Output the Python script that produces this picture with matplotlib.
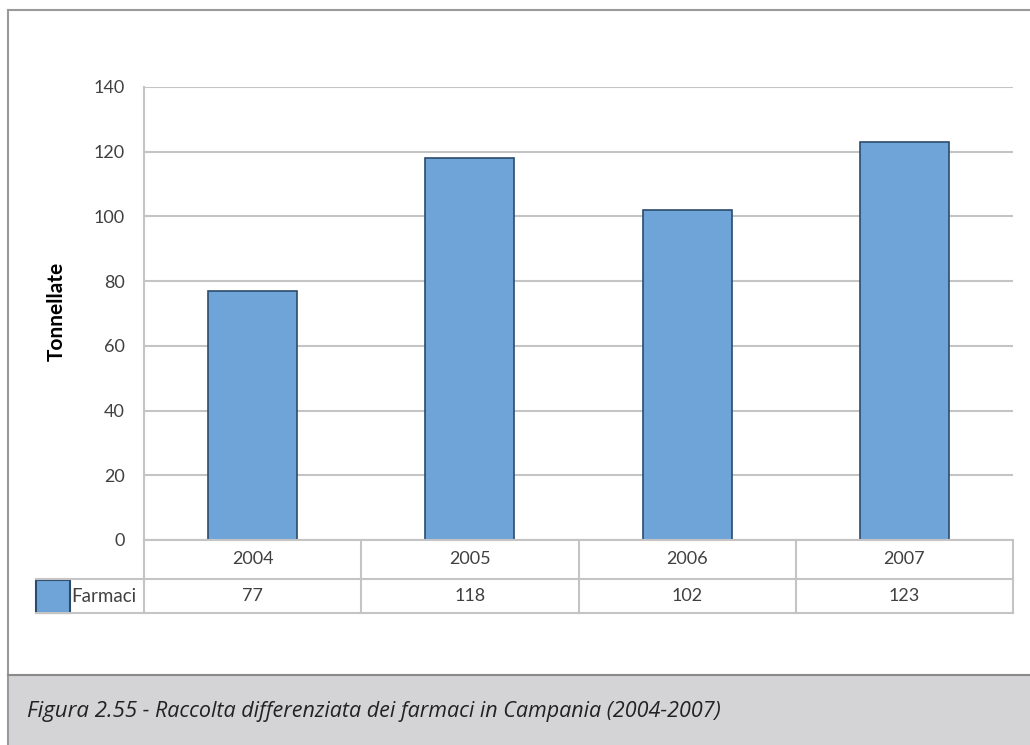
import matplotlib.pyplot as plt
from matplotlib.patches import Rectangle
from matplotlib.lines import Line2D

years = ["2004", "2005", "2006", "2007"]
farmaci = [77, 118, 102, 123]
series_name = "Farmaci"
y_ticks = [0, 20, 40, 60, 80, 100, 120, 140]
y_label = "Tonnellate"
caption_head = "Figura 2.55"
caption_tail = " - Raccolta differenziata dei farmaci in Campania (2004-2007)"

W, H = 1030, 745
FONT = "Lato"
bar_color = "#6fa4d8"
bar_edge = "#2c4a6b"
grid_color = "#c4c4c4"
text_color = "#404040"

fig = plt.figure(figsize=(W / 100, H / 100), dpi=100)
fig.patch.set_facecolor("white")


def fx(px):
    return px / W


def fy(py):
    return 1 - py / H


# outer frame and caption band
fig.add_artist(Line2D([fx(8), fx(8)], [fy(10), fy(745)], color="#9a9a9a", lw=1.5))
fig.add_artist(Line2D([fx(8), fx(1030)], [fy(10), fy(10)], color="#9a9a9a", lw=1.5))
fig.add_artist(Rectangle((fx(8), 0), 1 - fx(8), fy(675), facecolor="#d4d4d6",
                         edgecolor="none"))
fig.add_artist(Line2D([fx(8), 1], [fy(675), fy(675)], color="#8a8a8a", lw=1.5))

# plotting area
left, right, top, bottom = 144, 1013, 87, 540
ax = fig.add_axes([fx(left), fy(bottom), fx(right - left), (bottom - top) / H])
x = range(len(years))
ax.bar(x, farmaci, width=0.41, color=bar_color, edgecolor=bar_edge, linewidth=1.2,
       zorder=3)
ax.set_xlim(-0.5, len(years) - 0.5)
ax.set_ylim(0, 140)
ax.set_yticks(y_ticks)
ax.set_yticklabels([str(v) for v in y_ticks], fontfamily=FONT, fontsize=13,
                   color=text_color)
ax.tick_params(axis="y", length=0, pad=14)
ax.tick_params(axis="x", length=0, labelbottom=False)
ax.yaxis.grid(True, color=grid_color, lw=1.5, zorder=0)
for s in ["top", "right", "bottom"]:
    ax.spines[s].set_visible(False)
ax.spines["left"].set_color(grid_color)
ax.spines["left"].set_linewidth(1.5)
ax.set_facecolor("white")
ax.set_ylabel(y_label, fontfamily=FONT, fontweight="bold", fontsize=15,
              color="black")
ax.yaxis.set_label_coords(-0.089, 0.505)

# data table beneath the axis
row1, row2, row3 = 540, 579, 613
col_w = (right - left) / len(years)
cols = [left + i * col_w for i in range(len(years) + 1)]
tc = grid_color
fig.add_artist(Line2D([fx(left), fx(right)], [fy(row1), fy(row1)], color=tc, lw=1.5))
fig.add_artist(Line2D([fx(36), fx(right)], [fy(row2), fy(row2)], color=tc, lw=1.5))
fig.add_artist(Line2D([fx(36), fx(right)], [fy(row3), fy(row3)], color=tc, lw=1.5))
for c in cols:
    fig.add_artist(Line2D([fx(c), fx(c)], [fy(row1), fy(row3)], color=tc, lw=1.5))
for i, (yr, v) in enumerate(zip(years, farmaci)):
    cx = (cols[i] + cols[i + 1]) / 2
    fig.text(fx(cx), fy((row1 + row2) / 2), yr, ha="center", va="center",
             fontfamily=FONT, fontsize=13, color=text_color)
    fig.text(fx(cx), fy((row2 + row3) / 2), str(v), ha="center", va="center",
             fontfamily=FONT, fontsize=13, color=text_color)

# legend key in the table
fig.add_artist(Rectangle((fx(36), fy(613)), fx(34), (613 - 580) / H,
                         facecolor=bar_color, edgecolor=bar_edge, lw=1.5))
fig.text(fx(71), fy((row2 + row3) / 2), series_name, ha="left", va="center",
         fontfamily=FONT, fontsize=13.5, color=text_color)

# caption
t1 = fig.text(fx(27), fy(711), caption_head, ha="left", va="center",
              fontfamily="Open Sans", style="italic", fontsize=16, color="#222222")
fig.canvas.draw()
bb = t1.get_window_extent()
fig.text(bb.x1 / W, fy(711), caption_tail, ha="left", va="center",
         fontfamily="Open Sans", style="italic", fontsize=15.5, color="#222222")

fig.savefig("out.png", dpi=100)
